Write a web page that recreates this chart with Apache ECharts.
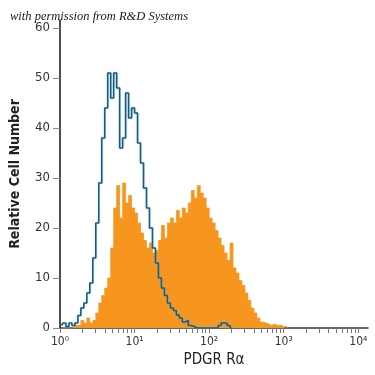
<!DOCTYPE html>
<html>
<head>
<meta charset="utf-8">
<script src="https://cdn.jsdelivr.net/npm/echarts@6/dist/echarts.min.js"></script>
<style>
html,body{margin:0;padding:0;background:#fff;}
#c{width:375px;height:375px;}
</style>
</head>
<body>
<div id="c"></div>
<script>
// Histogram bins: log10 channel width per bin, starting at 10^0
const binStartLog = 0;
const binStepLog = 0.04;

// Isotype control (blue outline)
const isotypeCounts = [0.5,1,0.3,1,0.5,1,2.5,4,5,7,
  9,14,21,29,38,44,51,46,51,48,
  36,38,47,42,44,43,37,33,28,24,
  20,16,13,10,8,6.5,5,4,3.5,2.6,
  2,1.2,1.5,0.5,0.3,0,0,0,0,0,
  0,0,0,0.5,1,1,0.5,0];

// PDGF R alpha stained (orange filled)
const pdgfraCounts = [0,0,0,0,0,0.5,0.5,1.5,1,2,
  1,1.5,3,5,6.5,8,10,16,24,28.5,
  22,29,25,26.5,24,23,21,19,17.5,16,
  17,15,15.5,17.5,20.5,18,21,22,21,23.5,
  22,24,23,25,27.5,26,28.5,27,26,24,
  22,21,19.5,18,16.5,15,13.5,17,12,11,
  9.5,8.5,7,5.5,4,3,2,1.2,1,0.8,
  0.5,0.8,0.5,0.6,0.3,0.3,0];

const xTickDecades = [0,1,2,3,4];
const xTickLabels = ['10\u2070','10\u00b9','10\u00b2','10\u00b3','10\u2074'];
const yTickValues = [0,10,20,30,40,50,60];

const toPairs = arr => arr.map((v,i)=>[binStartLog + (i+0.5)*binStepLog, v]);

const minorTicks = [];
for (let d=0; d<4; d++) for (let k=1; k<=9; k++) minorTicks.push(d + Math.log10(k));
minorTicks.push(4);

const condensed = "'Liberation Sans Narrow','DejaVu Sans Condensed','Roboto Condensed',sans-serif";

const chart = echarts.init(document.getElementById('c'), null, {renderer:'canvas'});
chart.setOption({
  animation:false,
  backgroundColor:'#fff',
  title:{
    text:'with permission from R&D Systems',
    left:5, top:5,
    textStyle:{fontFamily:"'Liberation Serif','DejaVu Serif',serif",fontStyle:'italic',fontWeight:'normal',fontSize:12.5,color:'#1a1a1a'}
  },
  grid:{left:55,right:7,top:20,bottom:47},
  xAxis:{
    type:'value', min:0, max:4.13,
    name:'PDGR R\u03b1', nameLocation:'middle', nameGap:24,
    nameTextStyle:{fontFamily:condensed,fontSize:15,color:'#222'},
    axisLine:{show:true,lineStyle:{color:'#333',width:1.5}},
    axisTick:{show:true,inside:false,length:5,customValues:minorTicks,lineStyle:{color:'#777',width:1}},
    axisLabel:{customValues:xTickDecades,formatter:v=>xTickLabels[Math.round(v)],fontFamily:condensed,fontSize:12,color:'#333',margin:8},
    splitLine:{show:false}
  },
  yAxis:{
    type:'value', min:0, max:61.6,
    name:'Relative Cell Number', nameLocation:'middle', nameGap:38,
    nameTextStyle:{fontFamily:condensed,fontSize:14,fontWeight:'bold',color:'#222'},
    axisLine:{show:true,lineStyle:{color:'#111',width:1.5}},
    axisTick:{show:true,inside:false,length:7,customValues:yTickValues,lineStyle:{color:'#888',width:1}},
    axisLabel:{customValues:yTickValues,fontFamily:condensed,fontSize:13,color:'#333',margin:10},
    splitLine:{show:false}
  },
  series:[
    {
      type:'line', step:'middle', showSymbol:false, silent:true,
      data:toPairs(pdgfraCounts),
      lineStyle:{color:'#f39a26',width:0.8},
      areaStyle:{color:'#f7961f',opacity:1},
      z:2
    },
    {
      type:'line', step:'middle', showSymbol:false, silent:true,
      data:toPairs(isotypeCounts),
      lineStyle:{color:'#1c5a7c',width:1.6,shadowColor:'rgba(120,200,230,0.6)',shadowBlur:2},
      z:3
    }
  ]
});
</script>
</body>
</html>
